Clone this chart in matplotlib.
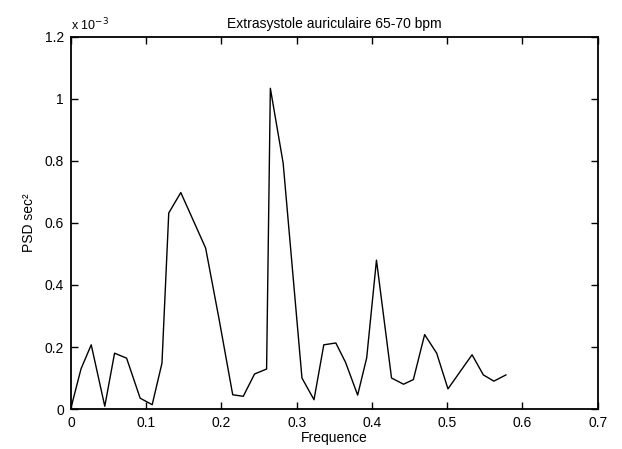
import numpy as np
import matplotlib
matplotlib.use("Agg")
import matplotlib.pyplot as plt
from matplotlib.ticker import FuncFormatter

# values (x in Hz, psd in units of 1e-3 sec^2)
freq = [0, 0.0135, 0.027, 0.045, 0.058, 0.074, 0.092, 0.108, 0.121, 0.130,
        0.146, 0.179, 0.197, 0.215, 0.229, 0.244, 0.260, 0.265, 0.282, 0.307,
        0.323, 0.336, 0.352, 0.365, 0.381, 0.393, 0.406, 0.426, 0.442, 0.455,
        0.470, 0.486, 0.501, 0.517, 0.533, 0.548, 0.562, 0.578]
psd_e3 = [0.003, 0.13, 0.207, 0.009, 0.18, 0.164, 0.035, 0.014, 0.148, 0.632,
          0.698, 0.519, 0.288, 0.046, 0.041, 0.113, 0.129, 1.034, 0.793, 0.100,
          0.030, 0.207, 0.213, 0.150, 0.045, 0.165, 0.48, 0.10, 0.08, 0.095,
          0.24, 0.18, 0.065, 0.12, 0.175, 0.11, 0.09, 0.11]
xticks = [0, 0.1, 0.2, 0.3, 0.4, 0.5, 0.6, 0.7]
yticks_e3 = [0, 0.2, 0.4, 0.6, 0.8, 1.0, 1.2]

plt.rcParams['font.family'] = ['Liberation Sans', 'DejaVu Sans']
plt.rcParams['font.size'] = 10

psd = np.array(psd_e3) * 1e-3

fig = plt.figure(figsize=(6.22, 4.49), dpi=100)
ax = fig.add_axes([0.114, 0.089, 0.847, 0.829])
ax.plot(freq, psd, color='black', linewidth=1.0)

ax.set_xlim(0, 0.7)
ax.set_ylim(0, 1.2e-3)
ax.set_xticks(xticks)
ax.set_yticks(np.array(yticks_e3) * 1e-3)
ax.xaxis.set_major_formatter(FuncFormatter(lambda v, p: f"{v:g}"))
ax.yaxis.set_major_formatter(FuncFormatter(lambda v, p: f"{v * 1e3:.10g}"))
ax.tick_params(direction='in', top=True, right=True, length=5, width=1,
               labelsize=10, pad=5)
for s in ax.spines.values():
    s.set_linewidth(1.3)

ax.text(0.0, 1.01, r"x 10$^{-3}$", transform=ax.transAxes, fontsize=9,
        ha='left', va='bottom')
ax.set_title("Extrasystole auriculaire 65-70 bpm", fontsize=10, pad=6)
ax.set_xlabel("Frequence", labelpad=1)
ax.set_ylabel("PSD sec²", labelpad=6)

fig.savefig("out.png", dpi=100)
